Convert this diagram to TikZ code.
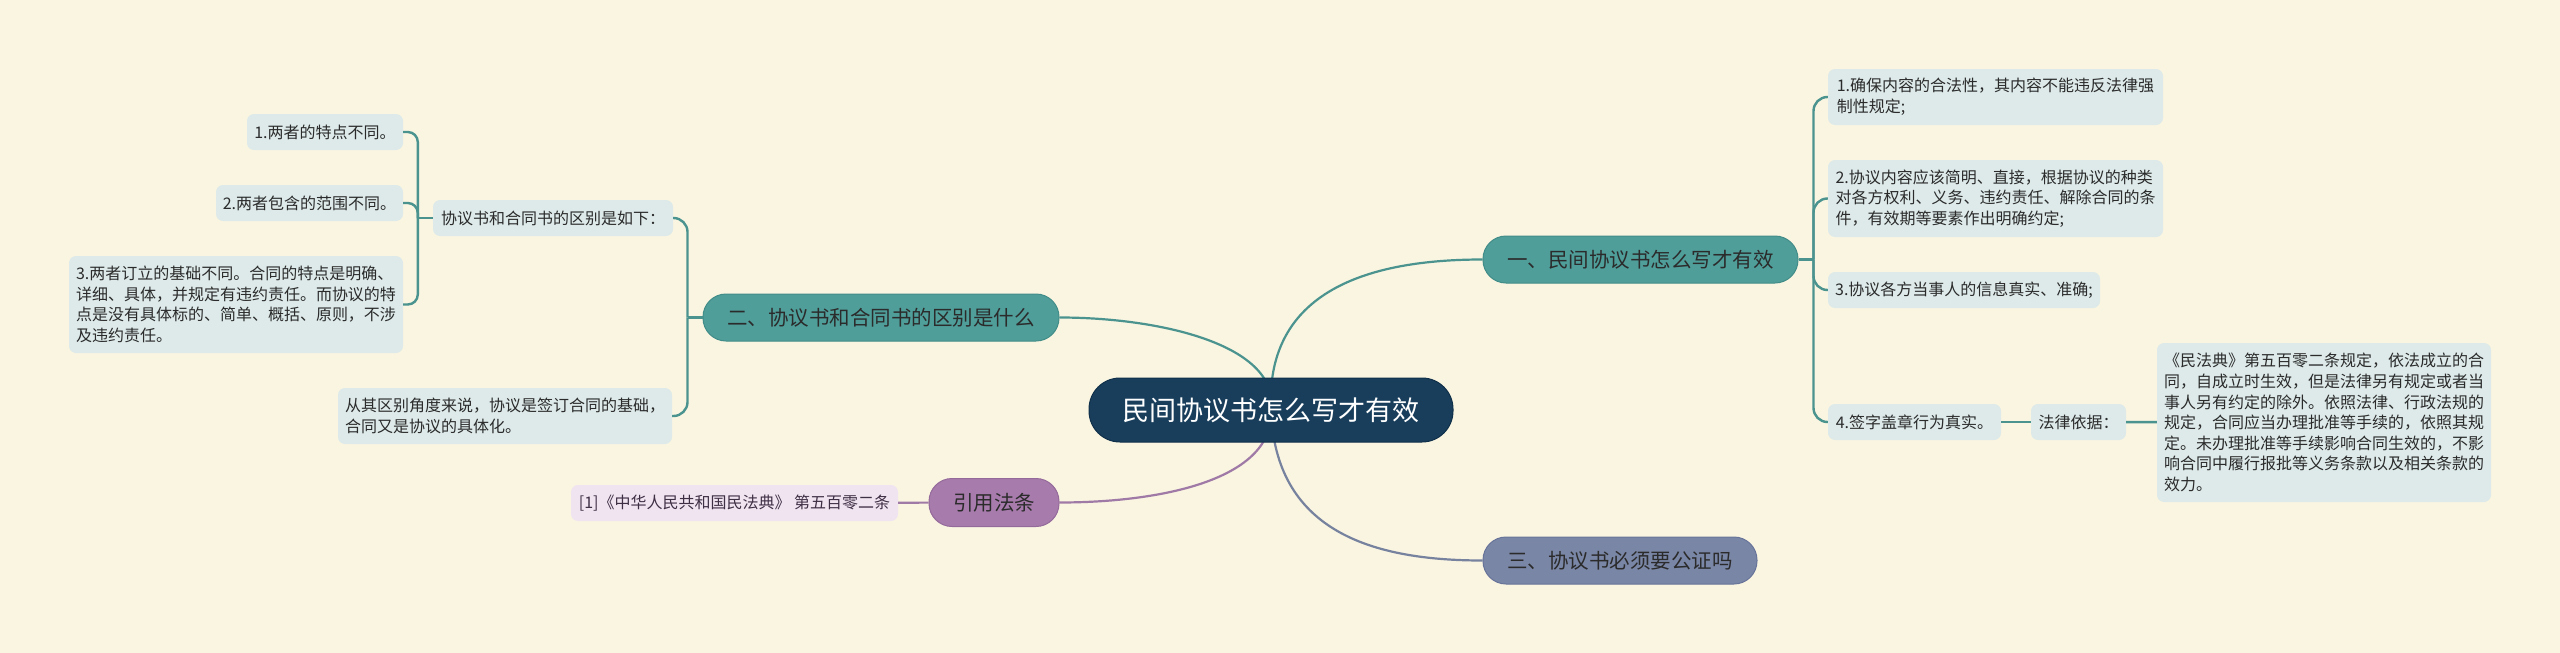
\documentclass[tikz,border=0pt]{standalone}
\usepackage{fontspec}
\setmainfont{Noto Sans CJK SC}
\usetikzlibrary{calc}
\pgfdeclarelayer{paper}
\pgfdeclarelayer{background}
\pgfsetlayers{paper,background,main}
\definecolor{bgc}{HTML}{FAF5E1}
\definecolor{leafc}{HTML}{DDEAE9}
\definecolor{tealc}{HTML}{4F9E9A}
\definecolor{tealb}{HTML}{418C88}
\definecolor{tealline}{HTML}{4A938F}
\definecolor{centerc}{HTML}{183E5C}
\definecolor{centerb}{HTML}{10304A}
\definecolor{slatec}{HTML}{7A86A6}
\definecolor{slateb}{HTML}{68739A}
\definecolor{slateline}{HTML}{77829F}
\definecolor{purpc}{HTML}{A87BAD}
\definecolor{purpb}{HTML}{946A9A}
\definecolor{purpline}{HTML}{A07AA6}
\definecolor{refc}{HTML}{F0E4F0}
\definecolor{textc}{HTML}{2B2B2B}
\definecolor{reftext}{HTML}{3F2F45}
\begin{document}
\begin{tikzpicture}[x=1pt,y=-1pt,
  leaf/.style={fill=leafc, rounded corners=7pt, inner sep=0pt, align=left,
    font=\fontsize{16}{20.6}\selectfont, text=textc},
  mainnode/.style={rounded corners=23pt, inner sep=0pt, minimum height=47pt,
    font=\fontsize{20.5}{24}\selectfont, text=textc, line width=1pt},
  tline/.style={draw=tealline, line width=2.4pt},
  pline/.style={draw=purpline, line width=2.2pt},
  sline/.style={draw=slateline, line width=2.2pt}
]
\useasboundingbox (0,0) rectangle (2560,653);
\begin{pgfonlayer}{paper}
\fill[bgc] (0,0) rectangle (2560,653);
\end{pgfonlayer}

% main nodes
\node[fill=centerc, draw=centerb, line width=1pt, rounded corners=31pt, inner sep=0pt,
  minimum width=364pt, minimum height=64pt, text=white,
  font=\fontsize{27}{30}\selectfont] (c) at (1271,410) {民间协议书怎么写才有效};
\node[mainnode, fill=tealc, draw=tealb, minimum width=315pt] (n1) at (1640.5,259.5) {一、民间协议书怎么写才有效};
\node[mainnode, fill=tealc, draw=tealb, minimum width=356pt] (n2) at (881,317.5) {二、协议书和合同书的区别是什么};
\node[mainnode, fill=slatec, draw=slateb, minimum width=274pt] (n3) at (1620,560.5) {三、协议书必须要公证吗};
\node[mainnode, fill=purpc, draw=purpb, minimum width=130pt, minimum height=48pt] (n4) at (994,502.5) {引用法条};

% left leaves
\node[leaf, fill=refc, text=reftext, minimum width=327pt, minimum height=36pt] (ref) at (734.5,503) {[1]《中华人民共和国民法典》 第五百零二条};
\node[leaf, minimum width=240pt, minimum height=36pt] (k0) at (553,218) {协议书和合同书的区别是如下：};
\node[leaf, minimum width=334pt, minimum height=56pt] (k1) at (505,416) {从其区别角度来说，协议是签订合同的基础，\\合同又是协议的具体化。};
\node[leaf, minimum width=156pt, minimum height=36pt] (a1) at (325,132) {1.两者的特点不同。};
\node[leaf, minimum width=187pt, minimum height=36pt] (a2) at (309.5,203) {2.两者包含的范围不同。};
\node[leaf, minimum width=334pt, minimum height=97pt] (a3) at (236,304.5) {3.两者订立的基础不同。合同的特点是明确、\\详细、具体，并规定有违约责任。而协议的特\\点是没有具体标的、简单、概括、原则，不涉\\及违约责任。};

% right leaves
\node[leaf, minimum width=335pt, minimum height=56pt] (r1) at (1995.5,97) {1.确保内容的合法性，其内容不能违反法律强\\制性规定;};
\node[leaf, minimum width=335pt, minimum height=77pt] (r2) at (1995.5,198.5) {2.协议内容应该简明、直接，根据协议的种类\\对各方权利、义务、违约责任、解除合同的条\\件，有效期等要素作出明确约定;};
\node[leaf, minimum width=272pt, minimum height=36pt] (r3) at (1964,290) {3.协议各方当事人的信息真实、准确;};
\node[leaf, minimum width=173pt, minimum height=36pt] (r4) at (1914.5,422) {4.签字盖章行为真实。};
\node[leaf, minimum width=95pt, minimum height=36pt] (l1) at (2078.5,422) {法律依据：};
\node[leaf, minimum width=334pt, minimum height=159pt] (l2) at (2324,422.5) {《民法典》第五百零二条规定，依法成立的合\\同，自成立时生效，但是法律另有规定或者当\\事人另有约定的除外。依照法律、行政法规的\\规定，合同应当办理批准等手续的，依照其规\\定。未办理批准等手续影响合同生效的，不影\\响合同中履行报批等义务条款以及相关条款的\\效力。};

% main connectors (behind the centre node)
\begin{pgfonlayer}{background}
\draw[tline, line width=2.2pt] (c.center) .. controls (1265,290) and (1370,259.5) .. (n1.west);
\draw[tline, line width=2.2pt] (c.center) .. controls (1280,345) and (1160,317.5) .. (n2.east);
\draw[pline] (c.center) .. controls (1275,480) and (1160,502.5) .. (n4.east);
\draw[sline] (c.center) .. controls (1275,530) and (1370,560.5) .. (n3.west);
\end{pgfonlayer}

% right bracket
\draw[tline] (n1.east) -- ++(15,0) coordinate (j1);
\draw[tline, rounded corners=14pt] (j1) |- (r1.west);
\draw[tline, rounded corners=14pt] (j1) |- (r2.west);
\draw[tline, rounded corners=14pt] (j1) |- (r3.west);
\draw[tline, rounded corners=14pt] (j1) |- (r4.west);
\draw[tline] (r4) -- (l1);
\draw[tline] (l1) -- (l2);

% left brackets
\draw[tline] (n2.west) -- ++(-15,0) coordinate (j2);
\draw[tline, rounded corners=14pt] (j2) |- (k0.east);
\draw[tline, rounded corners=14pt] (j2) |- (k1.east);
\draw[tline] (k0.west) -- ++(-15,0) coordinate (j3);
\draw[tline, rounded corners=10pt] (j3) |- (a1.east);
\draw[tline, rounded corners=10pt] (j3) |- (a2.east);
\draw[tline, rounded corners=10pt] (j3) |- (a3.east);
\draw[pline] (n4) -- (ref);
\end{tikzpicture}
\end{document}
